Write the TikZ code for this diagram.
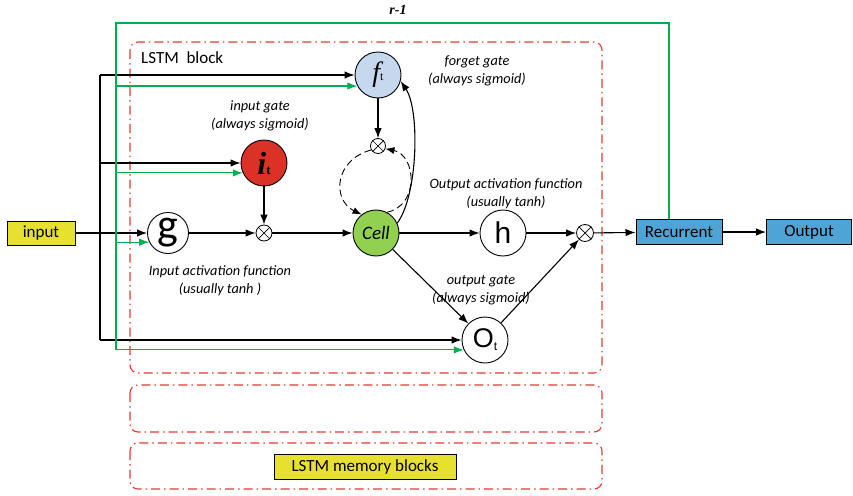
\documentclass[tikz,border=0pt]{standalone}
\usepackage{fontspec}
\setmainfont{Carlito}
\newfontfamily\serfont{Liberation Serif}
\newfontfamily\arfont{Liberation Sans}
\usetikzlibrary{arrows.meta}
\definecolor{yellowbox}{RGB}{232,224,46}
\definecolor{bluebox}{RGB}{78,164,212}
\definecolor{ftblue}{RGB}{198,216,238}
\definecolor{itred}{RGB}{218,50,38}
\definecolor{cellgreen}{RGB}{146,208,80}
\definecolor{lgreen}{RGB}{0,176,80}
\definecolor{dred}{RGB}{232,56,48}
\begin{document}
\begin{tikzpicture}[x=1pt,y=-1pt,
  ln/.style={line width=1.1pt},
  arr/.style={ln,-{Latex[length=10pt,width=7.5pt]}},
  gln/.style={draw=lgreen,line width=1.1pt},
  garr/.style={gln,-{Latex[length=10pt,width=7.5pt]}},
  dasharr/.style={line width=0.9pt,dash pattern=on 7pt off 4pt,-{Latex[length=9pt,width=7pt]}},
  circ/.style={circle,draw,line width=0.9pt,minimum size=46pt,inner sep=0pt},
  mult/.style={circle,draw,fill=white,line width=0.8pt,minimum size=16pt,inner sep=0pt},
  box/.style={draw,line width=1pt,minimum width=64pt,minimum height=23pt,inner sep=0pt,font=\fontsize{17}{17}\selectfont},
  redbox/.style={draw=dred,line width=1.1pt,rounded corners=8pt,dash pattern=on 9pt off 4pt on 1.5pt off 4pt},
  lbl/.style={font=\itshape\fontsize{14.3}{18}\selectfont,align=center,inner sep=0pt}
]
\useasboundingbox (0,0) rectangle (853,495);

% red dash-dot blocks
\draw[redbox] (130,42) rectangle (602,373);
\draw[redbox] (130,385) rectangle (602,432);
\draw[redbox] (130,443) rectangle (602,489);

% boxes
\node[box,fill=yellowbox,minimum width=68pt,minimum height=24pt] (in) at (41,233) {input};
\node[box,fill=bluebox,minimum width=86pt,minimum height=25pt] (rec) at (679,232) {Recurrent};
\node[box,fill=bluebox,minimum width=85pt,minimum height=25pt] (out) at (809,232) {Output};
\node[box,fill=yellowbox,minimum width=182pt,minimum height=25pt] (mem) at (365,467) {LSTM memory blocks};

% circles
\node[circ,minimum size=41pt] (g) at (168,233) {\fontsize{44}{44}\selectfont g};
\node[circ,fill=cellgreen] (cell) at (376,233) {\fontsize{19}{19}\selectfont\itshape Cell};
\node[circ] (h) at (503,233) {\arfont\fontsize{30}{30}\selectfont h};
\node[circ] (ot) at (485,340) {\arfont\fontsize{27}{27}\selectfont O\raisebox{-3pt}{\fontsize{12}{12}\selectfont t}};
\node[circ,fill=ftblue] (ft) at (378,75) {\serfont\itshape\fontsize{28}{28}\selectfont f\raisebox{1pt}{\upshape\fontsize{12}{12}\selectfont t}};
\node[circ,fill=itred] (it) at (264,163) {\serfont\bfseries\itshape\fontsize{32}{32}\selectfont i\raisebox{0pt}{\upshape\fontsize{13}{13}\selectfont t}};

% multipliers
\node[mult] (mi) at (264,233) {};
\node[mult,minimum size=15pt] (mf) at (378,146) {};
\node[mult,minimum size=17pt] (mo) at (585,233) {};
\foreach \m in {mi,mf,mo}
  \draw[line width=0.7pt] (\m.45) -- (\m.225) (\m.135) -- (\m.315);

% labels
\node[font=\fontsize{17}{17}\selectfont,anchor=west,inner sep=0pt] (lb) at (141,58) {LSTM\ \ block};
\node[font=\serfont\bfseries\itshape\fontsize{14}{14}\selectfont,inner sep=0pt] (r1) at (398,10) {r-1};
\node[lbl] (lf) at (477,71) {forget gate\\(always sigmoid)};
\node[lbl] (li) at (260,116) {input gate\\(always sigmoid)};
\node[lbl] (lh) at (506,194) {Output activation function\\(usually tanh)};
\node[lbl] (lg) at (220,281) {Input activation function\\(usually tanh )};
\node[lbl] (lo) at (481,290) {output gate\\(always sigmoid)};

% black input trunk
\coordinate (bx) at (100,0);
\coordinate (b1) at (bx |- ft.west);
\coordinate (b4) at (bx |- ot.west);
\draw[ln] (b1) -- (b4);
\draw[arr] (in.east) -- (g.west);
\draw[arr] (b1) -- (ft.west);
\draw[arr] (bx |- it.west) -- (it.west);
\draw[arr] (b4) -- (ot.west);

% green recurrent trunk
\coordinate (gx) at (116,0);
\coordinate (gtop) at (669,23);
\coordinate (g4) at (gx |- ot.205);
\draw[garr] (rec.north -| gtop) -- (gtop) -- (gx |- gtop) -- (g4) -- (ot.205);
\draw[garr] (gx |- ft.208) -- (ft.208);
\draw[garr] (gx |- it.205) -- (it.205);
\draw[garr] (gx |- g.206) -- (g.206);

% internal flow
\draw[arr] (g) -- (mi);
\draw[arr] (it) -- (mi);
\draw[arr] (mi) -- (cell);
\draw[arr] (ft) -- (mf);
\draw[arr] (cell) -- (h);
\draw[arr] (h) -- (mo);
\draw[arr] (cell) -- (ot);
\draw[arr] (ot) -- (mo);
\draw[arr] (mo) -- (rec);
\draw[arr] (rec) -- (out);
\draw[arr] (cell.25) .. controls (418,195) and (420,110) .. (ft.-15);

% dashed self loop
\draw[dasharr] (mf.210) .. controls (334,160) and (332,200) .. (cell.128);
\draw[dasharr] (cell.62) .. controls (420,205) and (416,155) .. (mf.-20);
\end{tikzpicture}
\end{document}
